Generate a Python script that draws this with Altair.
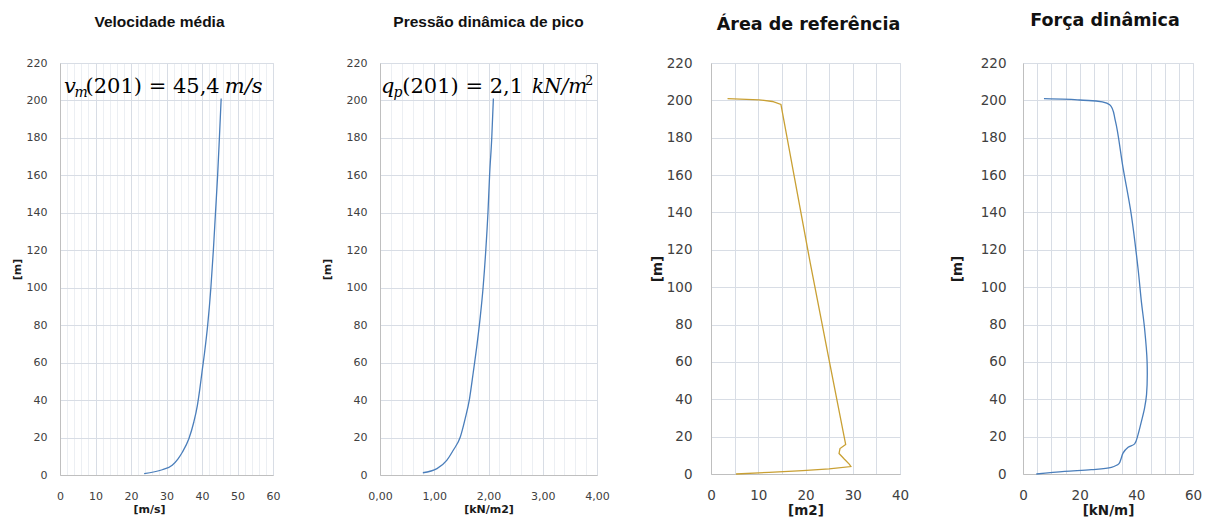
import altair as alt
import pandas as pd

# ---------------- data ----------------
# Panel 1: Velocidade média  (height [m] vs speed [m/s])
vm_height = [0.7, 2.8, 5.2, 8.5, 12.3, 19.4, 28.3, 37.2, 46.1, 55, 65, 80, 100, 120, 140, 160, 180, 201]
vm_speed = [23.7, 28.8, 31.6, 33.2, 34.5, 36.3, 37.7, 38.7, 39.4, 40.0, 40.7, 41.6, 42.5, 43.2, 43.8, 44.4, 44.9, 45.4]

# Panel 2: Pressão dinâmica de pico  (height [m] vs kN/m2)
qp_height = [1.2, 3.4, 7.8, 13.2, 20.3, 30.1, 40.7, 55, 70, 85, 100, 120, 140, 160, 180, 201]
qp_value = [0.79, 1.05, 1.23, 1.35, 1.48, 1.57, 1.65, 1.72, 1.79, 1.85, 1.90, 1.95, 1.99, 2.02, 2.06, 2.09]

# Panel 3: Área de referência  (height [m] vs m2), in drawing order
ar_height = [0.0, 0.9, 1.8, 2.7, 4.0, 5.2, 8.0, 11.0, 13.6, 15.8, 61, 113, 197.8, 199.4, 200.3, 200.9]
ar_value = [5.3, 12.3, 19.4, 25.0, 29.6, 29.3, 28.2, 27.1, 27.3, 28.5, 25.0, 21.0, 14.8, 13.0, 10.2, 3.5]

# Panel 4: Força dinâmica  (height [m] vs kN/m), in drawing order
fd_height = [0, 1.4, 2.3, 3.6, 5.4, 8.6, 11.2, 14.3, 16.1, 21.1, 28.2, 35.3, 42.5, 60, 78,
             92, 110, 139, 164, 189, 197.7, 200.2, 200.9]
fd_value = [4.7, 14.7, 24.1, 31.2, 33.8, 34.7, 35.3, 37.1, 39.4, 40.6, 41.8, 42.9, 43.6, 43.8, 42.9,
            41.8, 40.6, 38.2, 35.3, 32.6, 30.6, 20.0, 7.4]

titles = ["Velocidade média", "Pressão dinâmica de pico", "Área de referência", "Força dinâmica"]
x_titles = ["[m/s]", "[kN/m2]", "[m2]", "[kN/m]"]
y_title = "[m]"
y_ticks = list(range(0, 221, 20))

# annotation pieces (text, style) for panels 1 and 2
ann1_text = ["v", "m", "(201) = 45,4", "m/s"]
ann1_italic = [True, True, False, True]
ann2_text = ["q", "p", "(201) = 2,1", "kN/m", "2"]
ann2_italic = [True, True, False, True, False]

BLUE = "#4a7ebb"
GOLD = "#c9a033"
MAJOR = "#d8dde5"
MINOR = "#eceff3"
LABEL = "#404040"
SERIF = "DejaVu Serif"


def make_df(h, v):
    return pd.DataFrame({"i": list(range(len(h))), "z": h, "v": v})


def panel(df, color, interp, width, height, x_domain, x_values, major_expr, label_expr,
          x_title, title, title_font, title_size, title_dx, title_offset,
          lab_font, lab_size, ax_title_size, y_lab_pad, x_lab_pad, y_title_pad,
          x_title_x=None, ann=None):
    x_axis_kw = dict(
        values=x_values, title=x_title, labelExpr=label_expr,
        grid=True, gridColor={"condition": {"test": major_expr, "value": MAJOR}, "value": MINOR},
        gridWidth=1, ticks=False, tickSize=0, domainColor="#bfbfbf",
        labelFont=lab_font, labelFontSize=lab_size, labelColor=LABEL, labelPadding=x_lab_pad,
        labelFlush=False, labelOverlap=False,
        titleFont="DejaVu Sans", titleFontWeight="bold", titleFontSize=ax_title_size,
        titleColor="#1a1a1a", titlePadding=2)
    if x_title_x is not None:
        x_axis_kw["titleX"] = x_title_x
    x_enc = alt.X("v:Q", scale=alt.Scale(domain=x_domain, nice=False, zero=False),
                  axis=alt.Axis(**x_axis_kw))
    y_enc = alt.Y("z:Q", scale=alt.Scale(domain=[0, 220], nice=False),
                  axis=alt.Axis(values=y_ticks, title=y_title, grid=True, gridColor=MAJOR,
                                ticks=False, tickSize=0, domainColor="#bfbfbf",
                                labelFont=lab_font, labelFontSize=lab_size, labelColor=LABEL,
                                labelPadding=y_lab_pad, labelFlush=False, labelOverlap=False,
                                titleFont="DejaVu Sans", titleFontWeight="bold",
                                titleFontSize=ax_title_size, titleColor="#1a1a1a",
                                titlePadding=y_title_pad))
    line = alt.Chart(df).mark_line(color=color, strokeWidth=1.3, interpolate=interp).encode(
        x=x_enc, y=y_enc, order="i:Q")
    layers = [line]
    if ann is not None:
        for italic in (True, False):
            sub = ann[ann["it"] == italic]
            kw = dict(align="left", baseline="alphabetic", font=SERIF, color="#000000")
            if italic:
                kw["fontStyle"] = "italic"
            layers.append(alt.Chart(sub).mark_text(**kw).encode(
                x=x_enc, y=y_enc, text="s:N", size=alt.Size("fs:Q", scale=None, legend=None)))
    return alt.layer(*layers).properties(
        width=width, height=height,
        title=alt.TitleParams(title, font=title_font, fontSize=title_size, fontWeight="bold",
                              color="#111111", anchor="middle", dx=title_dx, offset=title_offset))


ann1 = pd.DataFrame({"s": ann1_text, "it": ann1_italic,
                     "v": [1.1, 4.1, 7.2, 46.4], "z": [204.2, 201.6, 204.2, 204.2],
                     "fs": [21, 14, 21, 21]})
ann2 = pd.DataFrame({"s": ann2_text, "it": ann2_italic,
                     "v": [0.02, 0.25, 0.41, 2.80, 3.78], "z": [204.2, 202.0, 204.2, 204.2, 208.0],
                     "fs": [21, 14, 21, 20, 13]})

p1 = panel(make_df(vm_height, vm_speed), BLUE, "monotone", 213, 412, [0, 60],
           [i * 2 for i in range(31)], "datum.value % 10 === 0",
           "datum.value % 10 === 0 ? datum.label : ''", x_titles[0], titles[0],
           "Liberation Sans", 15.5, -7, 27, "DejaVu Sans", 11, 11, 13, 15, 4,
           x_title_x=89, ann=ann1)

p2 = panel(make_df(qp_height, qp_value), BLUE, "monotone", 217, 412, [0, 4],
           [round(i * 0.2, 1) for i in range(21)],
           "abs(datum.value - round(datum.value)) < 1e-6",
           "abs(datum.value - round(datum.value)) < 1e-6 ? replace(format(datum.value, '.2f'), '.', ',') : ''",
           x_titles[1], titles[1], "Liberation Sans", 15.5, 0, 27, "DejaVu Sans", 11, 11, 13, 15, 14,
           ann=ann2)

p3 = panel(make_df(ar_height, ar_value), GOLD, "linear", 189, 411, [0, 40],
           [i * 5 for i in range(9)], "true",
           "datum.value % 10 === 0 ? datum.label : ''", x_titles[2], titles[2],
           "DejaVu Sans", 17.5, 3, 23, "DejaVu Sans", 13.5, 13.5, 19, 14, 2)

p4 = panel(make_df(fd_height, fd_value), BLUE, "catmull-rom", 170, 411, [0, 60],
           [i * 5 for i in range(13)], "true",
           "datum.value % 20 === 0 ? datum.label : ''", x_titles[3], titles[3],
           "DejaVu Sans", 17.5, -3, 27, "DejaVu Sans", 13.5, 13.5, 17, 14, 16)

chart = alt.hconcat(p1, p2, p3, p4, spacing=39).properties(
    padding={"left": 10, "top": 11, "right": 0, "bottom": 0}
).configure_view(stroke="#404040", strokeWidth=1.2).configure(background="white")

chart.save("out.html", embed_options={"renderer": "svg", "actions": False})
